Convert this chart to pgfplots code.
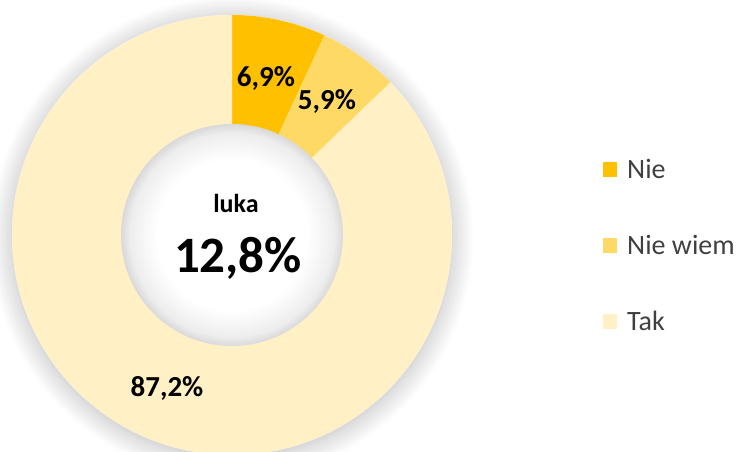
\documentclass[border=0pt]{standalone}
\usepackage{pgfplots}
\pgfplotsset{compat=1.18}
\usepackage{fontspec}
\setmainfont{Carlito}
\usetikzlibrary{shadows.blur,calc}
\definecolor{cNie}{HTML}{FFC000}
\definecolor{cNW}{HTML}{FFD966}
\definecolor{cTak}{HTML}{FFF0C6}
\definecolor{legtext}{HTML}{404040}
\pgfdeclareradialshading{holeshade}{\pgfpoint{0bp}{0bp}}{color(0bp)=(white); color(17bp)=(white); color(23bp)=(black!7); color(25bp)=(black!15); color(50bp)=(black!15)}
% #1 start percent, #2 end percent, #3 colour
\newcommand{\slice}[3]{%
  \fill[#3, shift={(axis cs:232,217)}]
    ({90-3.6*#1}:220pt) arc[start angle={90-3.6*#1}, end angle={90-3.6*#2}, radius=220pt]
    -- ({90-3.6*#2}:110pt) arc[start angle={90-3.6*#2}, end angle={90-3.6*#1}, radius=110pt]
    -- cycle;}
\begin{document}
\begin{tikzpicture}
\begin{axis}[
  name=ax,
  scale only axis, width=749pt, height=452pt,
  xmin=0, xmax=749, ymin=0, ymax=452,
  hide axis, clip=true,
  legend image code/.code={\fill[#1, draw=none] (0pt,-8pt) rectangle (14pt,7pt);},
  legend cell align=left,
  legend style={at={(axis cs:603,207)}, anchor=west, draw=none, fill=none,
    inner sep=0pt, font=\fontsize{28}{30}\selectfont, text=legtext, row sep=56pt,
    nodes={inner sep=0pt, text height=20pt, text depth=0pt},
    /tikz/every odd column/.style={column sep=0pt},
    /tikz/every even column/.style={column sep=0pt}},
]
\addlegendimage{fill=cNie, draw=none}
\addlegendentry{\hspace{10pt}Nie}
\addlegendimage{fill=cNW, draw=none}
\addlegendentry{\hspace{10pt}Nie wiem}
\addlegendimage{fill=cTak, draw=none}
\addlegendentry{\hspace{10pt}Tak}
% shadow of the donut
\fill[white, blur shadow={shadow xshift=0pt, shadow yshift=-3pt, shadow blur radius=22pt, shadow opacity=28, shadow blur steps=20}] (axis cs:232,217) circle[radius=220pt];
% slices: Nie 6.9, Nie wiem 5.9, Tak 87.2
\slice{0}{6.9}{cNie}
\slice{6.9}{12.8}{cNW}
\slice{12.8}{100}{cTak}
% hole
\path[shading=holeshade] (axis cs:232,217) circle[radius=111pt];
% labels
\node[anchor=base, font=\fontsize{29}{30}\selectfont\bfseries] at (axis cs:266,365) {6,9\%};
\node[anchor=base, font=\fontsize{29}{30}\selectfont\bfseries] at (axis cs:327,342) {5,9\%};
\node[anchor=base, font=\fontsize{29}{30}\selectfont\bfseries] at (axis cs:167,55) {87,2\%};
\node[anchor=base, font=\fontsize{26}{28}\selectfont\bfseries] at (axis cs:236,239) {luka};
\node[anchor=base, font=\fontsize{51}{54}\selectfont\bfseries] at (axis cs:238,179) {12,8\%};
\end{axis}
\pgfresetboundingbox
\path (ax.south west) rectangle (ax.north east);
\end{tikzpicture}
\end{document}
